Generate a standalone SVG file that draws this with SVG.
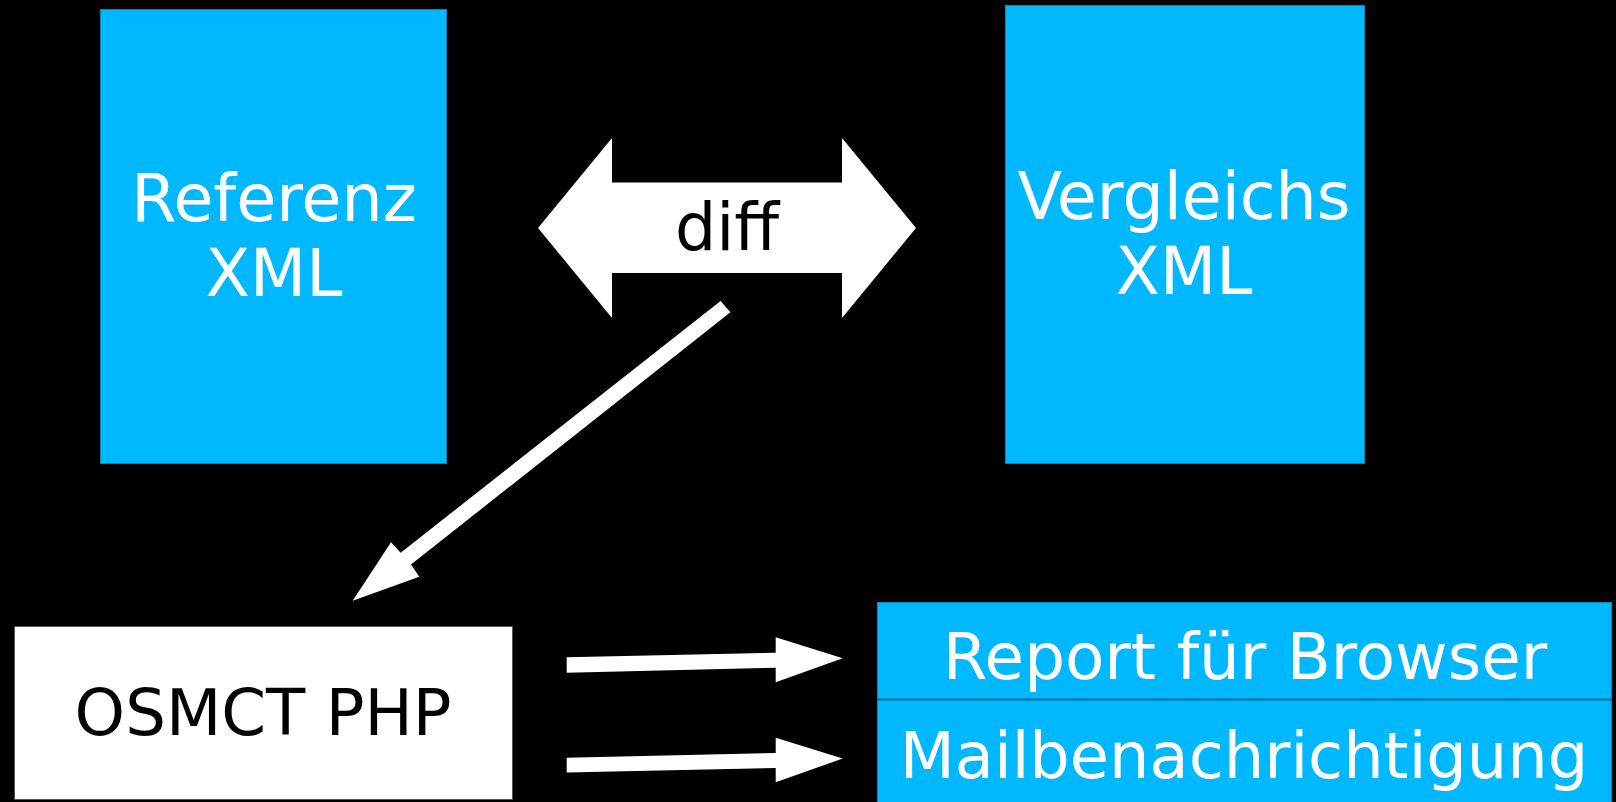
<svg xmlns="http://www.w3.org/2000/svg" width="1616" height="802" viewBox="0 0 1616 802">
<style>
.box{fill:#00b8ff;stroke:#0a86b8;stroke-width:1}
.wt{fill:#ffffff;font-family:"DejaVu Sans",sans-serif;font-size:63px;text-anchor:middle}
.bt{fill:#000000;font-family:"DejaVu Sans",sans-serif;font-size:63px;text-anchor:middle}
.arr{fill:#ffffff;stroke:none}
</style>
<rect x="0" y="0" width="1616" height="802" fill="#000000"/>
<g id="referenz">
<rect class="box" x="100.5" y="9.5" width="346" height="454"/>
<text class="wt" x="274" y="221" style="font-size:65px">Referenz</text>
<text class="wt" x="274" y="296" style="font-size:65px">XML</text>
</g>
<g id="vergleichs">
<rect class="box" x="1005.5" y="5.5" width="359" height="458"/>
<text class="wt" x="1184" y="219" style="font-size:65px">Vergleichs</text>
<text class="wt" x="1184" y="294" style="font-size:65px">XML</text>
</g>
<g id="osmct">
<rect x="14.5" y="626.5" width="498" height="173" fill="#ffffff" stroke="#555555" stroke-width="1"/>
<text class="bt" x="263" y="735" style="font-size:64.2px">OSMCT PHP</text>
</g>
<g id="report">
<rect class="box" x="877.5" y="602.5" width="734" height="97"/>
<text class="wt" x="1245" y="679" style="font-size:64.3px">Report für Browser</text>
</g>
<g id="mail">
<rect class="box" x="877.5" y="699.5" width="734" height="104"/>
<line x1="877" y1="699.5" x2="1612" y2="699.5" stroke="#006a96" stroke-width="2"/>
<text class="wt" x="1244" y="778" style="font-size:63.8px">Mailbenachrichtigung</text>
</g>
<g id="connectors">
<g id="diff">
<polygon class="arr" points="538,228 612,138 612,182.5 842,182.5 842,138 916,228 842,318 842,273 612,273 612,318"/>
<text class="bt" x="727" y="250" style="font-size:65px">diff</text>
</g>
<polygon class="arr" points="720.6,301 730.4,312.3 411,564.5 419.3,576.7 352.7,600.7 391,542.3 400.7,552.7"/>
<polygon class="arr" points="566.7,657.3 775.7,652.7 775.7,637.3 842.7,658.3 775.7,682.3 775.7,667.7 566.7,672.7"/>
<polygon class="arr" points="566.7,757.7 775.7,753 775.7,737.7 842.7,758.5 775.7,782.3 775.7,768 566.7,772.5"/>
</g>
</svg>
